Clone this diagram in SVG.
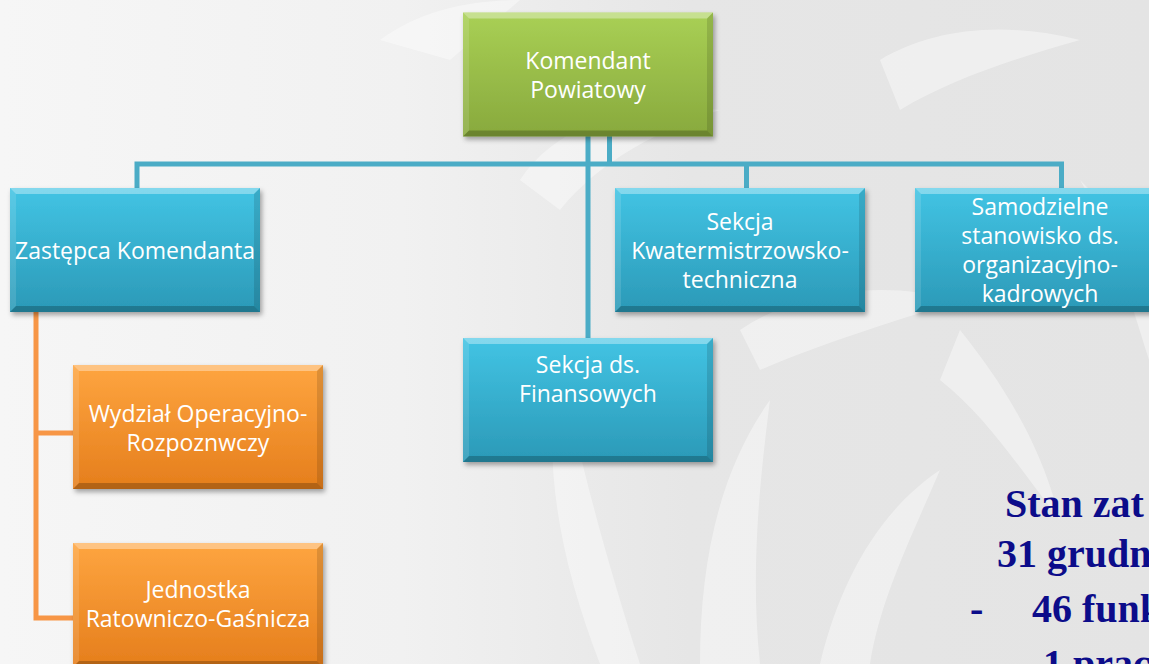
<svg xmlns="http://www.w3.org/2000/svg" xmlns:xlink="http://www.w3.org/1999/xlink" width="1149" height="664" viewBox="0 0 1149 664">
<defs>
  <linearGradient id="bg" x1="0" y1="0" x2="1" y2="0">
    <stop offset="0" stop-color="#f6f6f6"/>
    <stop offset="0.35" stop-color="#f1f1f1"/>
    <stop offset="0.6" stop-color="#e6e6e6"/>
    <stop offset="1" stop-color="#e4e4e4"/>
  </linearGradient>
  <linearGradient id="gBlue" x1="0" y1="0" x2="0" y2="1">
    <stop offset="0" stop-color="#42c4e4"/>
    <stop offset="1" stop-color="#2b99b7"/>
  </linearGradient>
  <linearGradient id="gGreen" x1="0" y1="0" x2="0" y2="1">
    <stop offset="0" stop-color="#a9d055"/>
    <stop offset="1" stop-color="#88a93d"/>
  </linearGradient>
  <linearGradient id="gOrange" x1="0" y1="0" x2="0" y2="1">
    <stop offset="0" stop-color="#fea540"/>
    <stop offset="1" stop-color="#e57e1c"/>
  </linearGradient>
  <filter id="shadow" x="-10%" y="-10%" width="125%" height="130%">
    <feDropShadow dx="2" dy="3" stdDeviation="2.5" flood-color="#000" flood-opacity="0.35"/>
  </filter>
  <g id="bevel">
    <polygon points="0,0 250,0 244,6 6,6" fill="#fff" opacity="0.35"/>
    <polygon points="0,0 6,6 6,118 0,124" fill="#fff" opacity="0.12"/>
    <polygon points="250,0 250,124 244,118 244,6" fill="#000" opacity="0.12"/>
    <polygon points="0,124 6,118 244,118 250,124" fill="#000" opacity="0.22"/>
  </g>
  <style>
    .lbl { font-family: "Open Sans", "DejaVu Sans", sans-serif; font-size: 23px; fill: #ffffff; text-anchor: middle; }
    .blue { fill: url(#gBlue); }
    .green { fill: url(#gGreen); }
    .orange { fill: url(#gOrange); }
    .cb { fill: none; stroke: #4bacc6; stroke-width: 5; stroke-linejoin: miter; }
    .co { fill: none; stroke: #f79646; stroke-width: 5; stroke-linejoin: miter; }
    .stat { font-family: "Liberation Serif", "Times New Roman", serif; font-weight: bold; font-size: 40px; fill: #0c0c8a; }
    .wm { fill: #ffffff; opacity: 0.4; }
  </style>
</defs>

<!-- background with faint watermark -->
<rect x="0" y="0" width="1149" height="664" fill="url(#bg)"/>
<g id="watermark">
  <path class="wm" d="M600,664 C560,560 540,460 560,360 C575,440 600,540 640,664 Z"/>
  <path class="wm" d="M700,664 C700,560 720,470 770,400 C760,480 750,570 760,664 Z"/>
  <path class="wm" d="M820,664 C840,580 880,510 940,470 C910,540 880,600 870,664 Z"/>
  <path class="wm" d="M740,330 C800,290 880,280 960,300 C900,320 830,340 760,370 Z"/>
  <path class="wm" d="M520,180 C560,120 640,100 720,110 C660,130 600,160 560,210 Z"/>
  <path class="wm" d="M880,60 C930,30 1000,20 1080,40 C1010,60 950,80 900,110 Z"/>
  <path class="wm" d="M960,330 C1000,380 1040,440 1060,520 C1020,470 990,420 940,380 Z"/>
  <path class="wm" d="M380,40 C420,10 470,0 520,0 L450,60 Z"/>
  <path class="wm" d="M1080,180 C1110,230 1130,300 1149,360 L1149,250 Z"/>
</g>

<g id="connectors">
  <polyline class="cb" points="588,136 588,338"/>
  <polyline class="cb" points="609.5,136 609.5,164"/>
  <polyline class="cb" points="137,188 137,164 1061.5,164 1061.5,188"/>
  <polyline class="cb" points="746.5,164 746.5,188"/>
  <polyline class="co" points="36,312 36,618 73,618"/>
  <polyline class="co" points="36,433 73,433"/>
</g>

<g id="komendant" transform="translate(463,12.5)">
  <rect width="250" height="124" class="green" filter="url(#shadow)"/>
  <use xlink:href="#bevel"/>
  <text class="lbl" x="125" y="56">Komendant</text>
  <text class="lbl" x="125" y="85">Powiatowy</text>
</g>

<g id="zastepca" transform="translate(10,188)">
  <rect width="250" height="124" class="blue" filter="url(#shadow)"/>
  <use xlink:href="#bevel"/>
  <text class="lbl" x="125" y="71">Zastępca Komendanta</text>
</g>

<g id="kwatermistrz" transform="translate(615,188)">
  <rect width="250" height="124" class="blue" filter="url(#shadow)"/>
  <use xlink:href="#bevel"/>
  <text class="lbl" x="125" y="42">Sekcja</text>
  <text class="lbl" x="125" y="71">Kwatermistrzowsko-</text>
  <text class="lbl" x="125" y="100">techniczna</text>
</g>

<g id="samodzielne" transform="translate(915,188)">
  <rect width="250" height="124" class="blue" filter="url(#shadow)"/>
  <use xlink:href="#bevel"/>
  <text class="lbl" x="125" y="27">Samodzielne</text>
  <text class="lbl" x="125" y="56">stanowisko ds.</text>
  <text class="lbl" x="125" y="85">organizacyjno-</text>
  <text class="lbl" x="125" y="114">kadrowych</text>
</g>

<g id="finansowe" transform="translate(463,338)">
  <rect width="250" height="124" class="blue" filter="url(#shadow)"/>
  <use xlink:href="#bevel"/>
  <text class="lbl" x="125" y="35">Sekcja ds.</text>
  <text class="lbl" x="125" y="64">Finansowych</text>
</g>

<g id="wydzial" transform="translate(73,365)">
  <rect width="250" height="124" class="orange" filter="url(#shadow)"/>
  <use xlink:href="#bevel"/>
  <text class="lbl" x="125" y="57">Wydział Operacyjno-</text>
  <text class="lbl" x="125" y="86">Rozpoznwczy</text>
</g>

<g id="jrg" transform="translate(73,543)">
  <rect width="250" height="124" class="orange" filter="url(#shadow)"/>
  <use xlink:href="#bevel"/>
  <text class="lbl" x="125" y="55">Jednostka</text>
  <text class="lbl" x="125" y="84">Ratowniczo-Gaśnicza</text>
</g>

<g id="stan">
  <text class="stat" x="1005" y="517">Stan zat</text>
  <text class="stat" x="997" y="567">31 grudn</text>
  <text class="stat" x="970" y="622">-</text>
  <text class="stat" x="1032" y="622">46 funk</text>
  <text class="stat" x="1043" y="677">1 prac</text>
</g>
</svg>
